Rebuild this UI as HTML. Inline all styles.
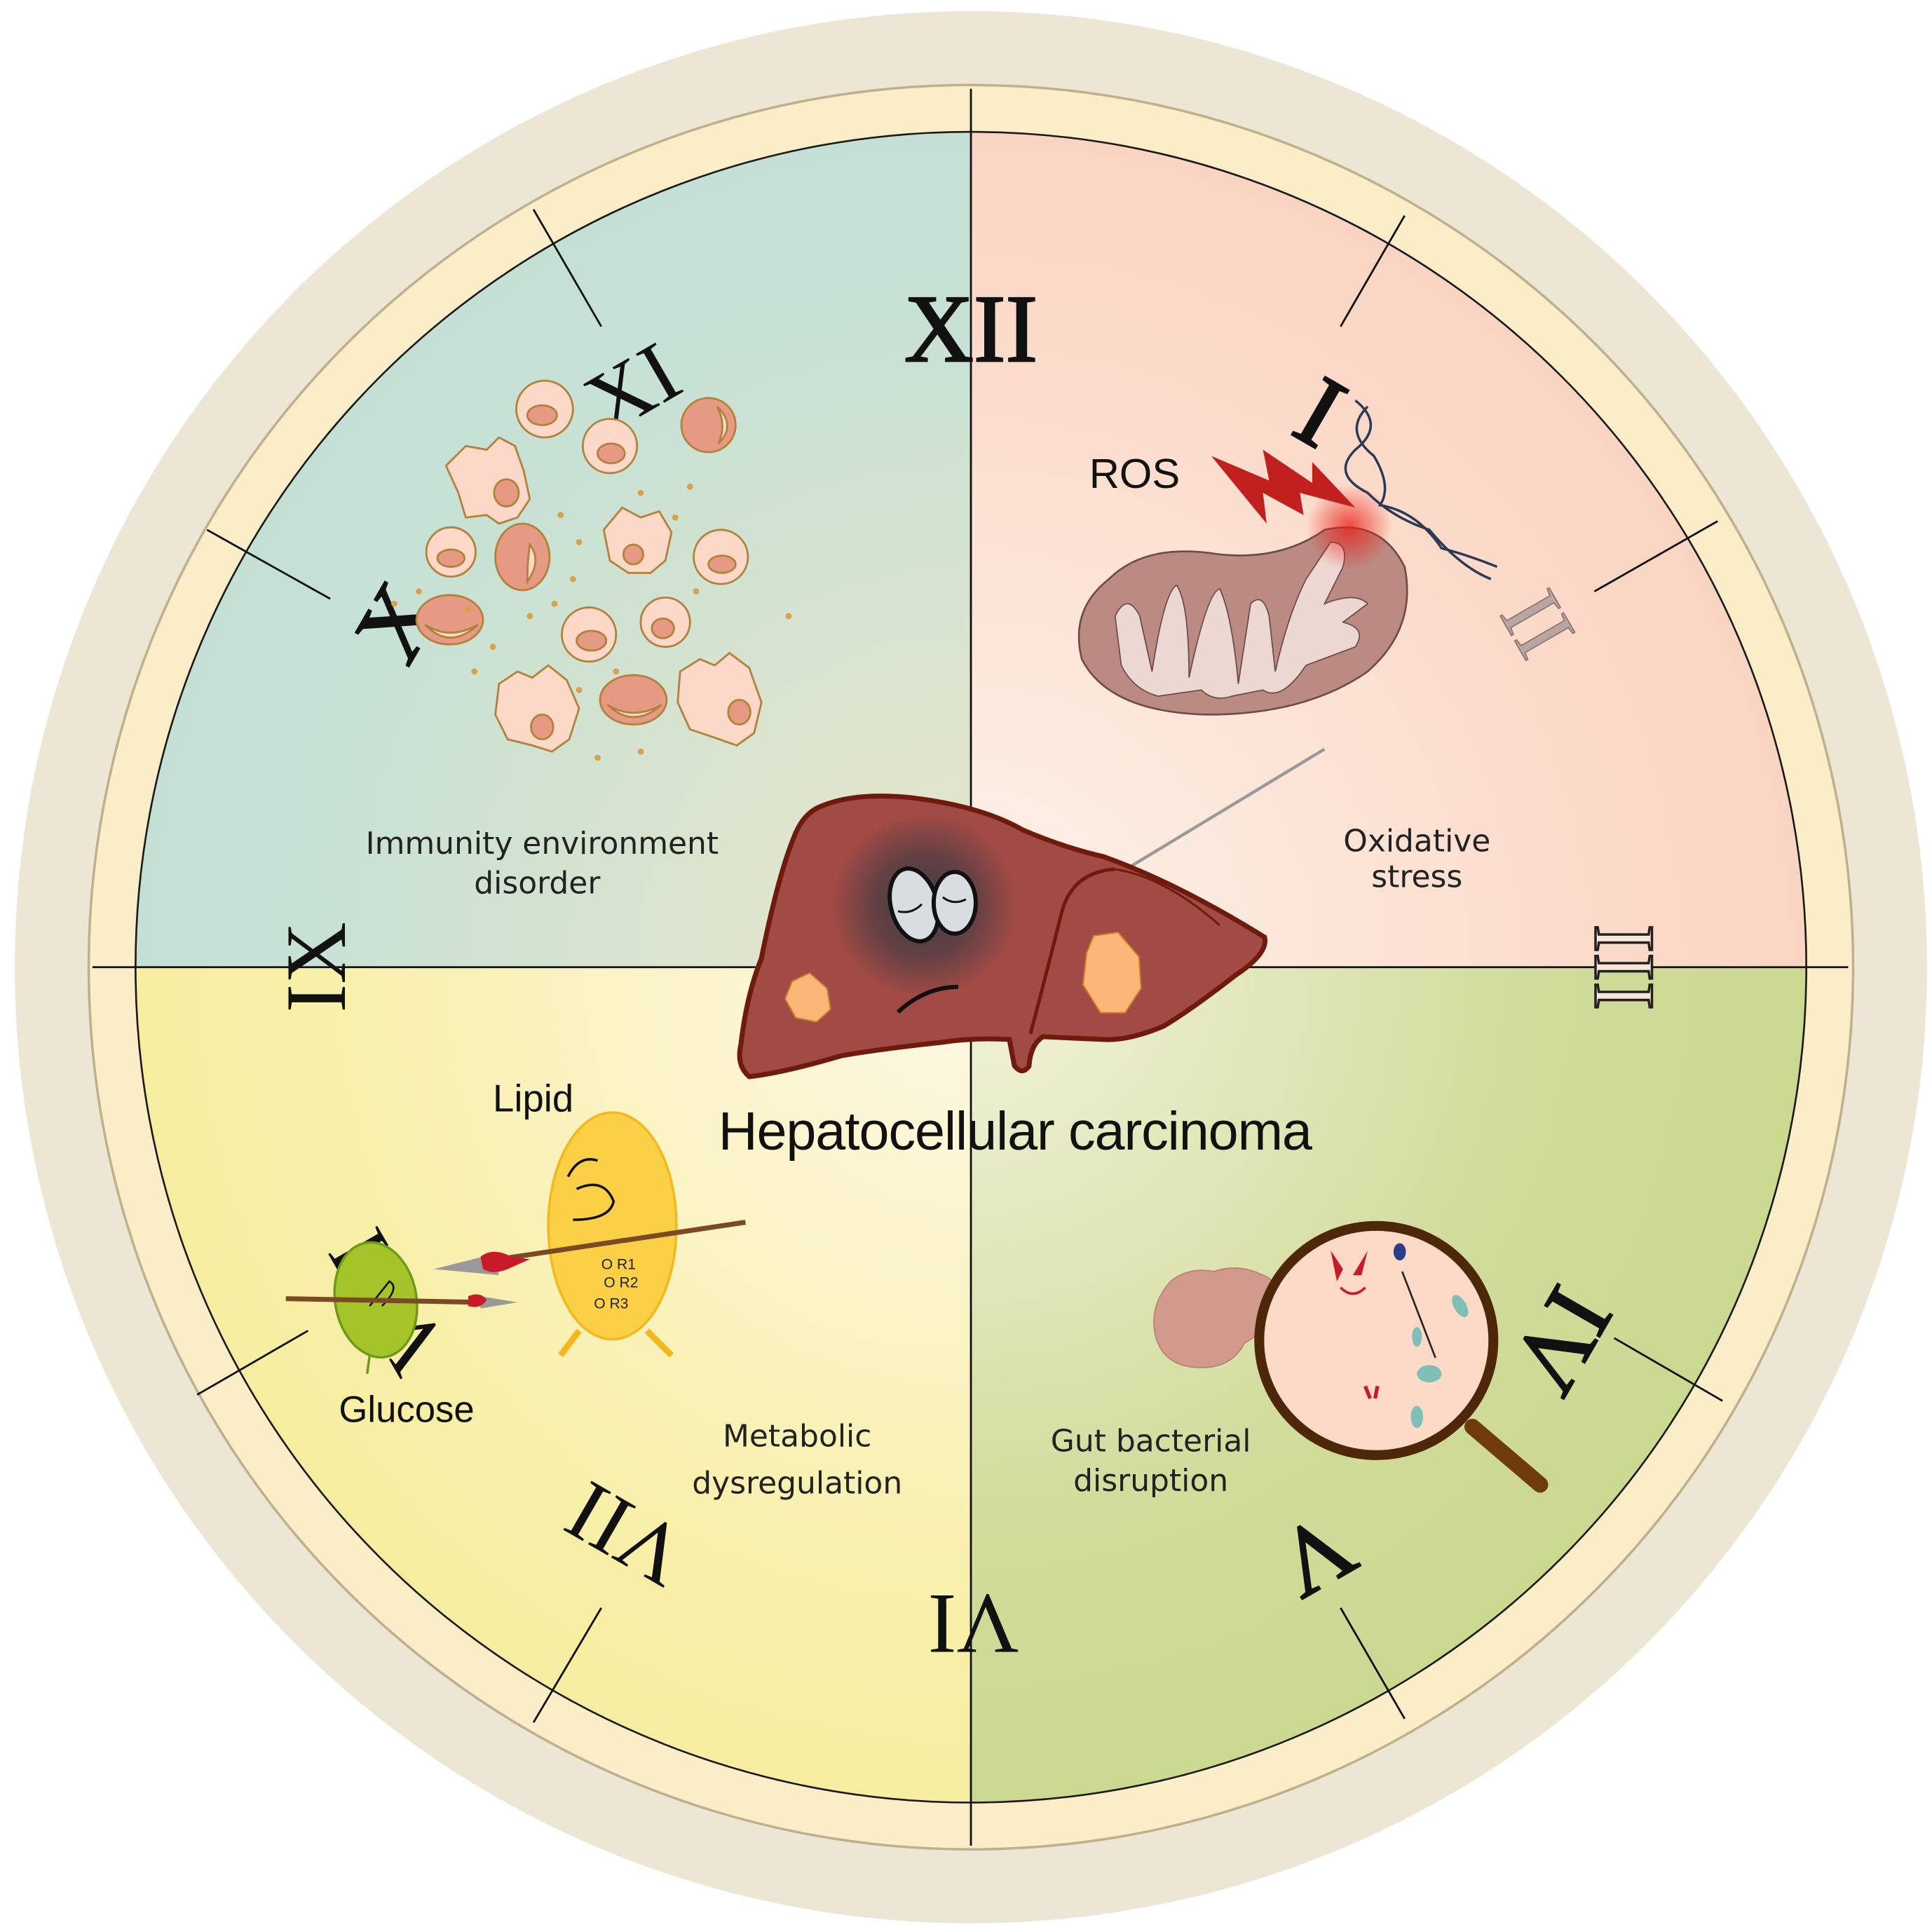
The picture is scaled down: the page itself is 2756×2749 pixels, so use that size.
<!DOCTYPE html>
<html><head><meta charset="utf-8"><style>html,body{margin:0;padding:0;background:#fff}svg{display:block}</style></head>
<body>
<svg width="2756" height="2749" viewBox="0 0 1568 1564" xmlns="http://www.w3.org/2000/svg">
<defs>
<radialGradient id="gTL" cx="788" cy="785" r="900" gradientUnits="userSpaceOnUse"><stop offset="0" stop-color="#eae6c9"/><stop offset="0.6" stop-color="#c7e1d5"/><stop offset="1" stop-color="#c0dfd6"/></radialGradient>
<radialGradient id="gTR" cx="788" cy="785" r="900" gradientUnits="userSpaceOnUse"><stop offset="0" stop-color="#fdf3ea"/><stop offset="0.6" stop-color="#fbd9c8"/><stop offset="1" stop-color="#f9cdbb"/></radialGradient>
<radialGradient id="gBL" cx="788" cy="785" r="900" gradientUnits="userSpaceOnUse"><stop offset="0" stop-color="#fdf8e6"/><stop offset="0.6" stop-color="#f8efa8"/><stop offset="1" stop-color="#f6ea95"/></radialGradient>
<radialGradient id="gBR" cx="788" cy="785" r="900" gradientUnits="userSpaceOnUse"><stop offset="0" stop-color="#f3f3dc"/><stop offset="0.5" stop-color="#d2dc9c"/><stop offset="1" stop-color="#c3d385"/></radialGradient>
<radialGradient id="shade" cx="750" cy="735" r="75" gradientUnits="userSpaceOnUse"><stop offset="0" stop-color="#3a3a44" stop-opacity="0.95"/><stop offset="0.55" stop-color="#3a3a44" stop-opacity="0.6"/><stop offset="1" stop-color="#3a3a44" stop-opacity="0"/></radialGradient>
<radialGradient id="redspot" cx="1095" cy="428" r="35" gradientUnits="userSpaceOnUse"><stop offset="0" stop-color="#e8201a"/><stop offset="1" stop-color="#e8201a" stop-opacity="0"/></radialGradient>
<clipPath id="inner"><circle cx="788" cy="785" r="678"/></clipPath>
<clipPath id="liverclip"><path transform="scale(0.5689)" d="M1172 1150 Q1220 1130 1300 1138 Q1400 1150 1459 1184 Q1520 1210 1574 1222 Q1680 1260 1804 1337 Q1810 1360 1763 1391 Q1700 1440 1660 1464 Q1610 1485 1574 1483 L1488 1479 Q1470 1490 1468 1521 Q1458 1535 1447 1520 L1440 1483 Q1390 1480 1344 1487 Q1260 1496 1201 1506 Q1120 1530 1069 1536 Q1050 1520 1057 1490 Q1065 1420 1086 1368 Q1110 1250 1132 1196 Q1145 1160 1172 1150Z"/></clipPath>
</defs>
<circle cx="788" cy="785" r="776" fill="#ede6d5"/>
<circle cx="788" cy="785" r="716" fill="#fbedc8" stroke="#bfb08d" stroke-width="2"/>
<g clip-path="url(#inner)">
<rect x="100" y="100" width="688" height="685" fill="url(#gTL)"/>
<rect x="788" y="100" width="690" height="685" fill="url(#gTR)"/>
<rect x="100" y="785" width="688" height="690" fill="url(#gBL)"/>
<rect x="788" y="785" width="690" height="690" fill="url(#gBR)"/>
</g>
<circle cx="788" cy="785" r="678" fill="none" stroke="#1a1a1a" stroke-width="1.5"/>
<g stroke="#111" stroke-width="1.6">
<line x1="788" y1="72" x2="788" y2="1498"/>
<line x1="75" y1="785" x2="1500" y2="785"/>
<line x1="1088" y1="265" x2="1140" y2="175"/>
<line x1="1294" y1="480" x2="1394" y2="423"/>
<line x1="1310" y1="1086" x2="1398" y2="1137"/>
<line x1="1088" y1="1305" x2="1140" y2="1395"/>
<line x1="488" y1="1305" x2="433" y2="1398"/>
<line x1="250" y1="1080" x2="160" y2="1132"/>
<line x1="268" y1="486" x2="168" y2="430"/>
<line x1="488" y1="265" x2="433" y2="170"/>
</g>
<g font-family="Liberation Serif, serif" font-size="78" text-anchor="middle" fill="#111">
<text x="788" y="293" stroke="#111" stroke-width="1.5">XII</text>
<text transform="translate(1058,358) rotate(30)" font-size="82" stroke="#111" stroke-width="2">I</text>
<text transform="translate(1228,518) rotate(60)" font-size="70" fill="#b9a5a2" stroke="#8c7470" stroke-width="1">II</text>
<text transform="translate(1295,785) rotate(90)" font-size="70" fill="#fbe6d8" stroke="#222" stroke-width="2">III</text>
<text transform="translate(1245,1075) rotate(120)" font-size="78" stroke="#111" stroke-width="1.5">IV</text>
<text transform="translate(1055,1240) rotate(150)" font-size="78" stroke="#111" stroke-width="1.5">V</text>
<text transform="translate(790,1295) rotate(180)" font-size="70">VI</text>
<text transform="translate(520,1225) rotate(210)" font-size="70">VII</text>
<text transform="translate(335,1045) rotate(240)" font-size="70">VIII</text>
<text transform="translate(280,785) rotate(270)" font-size="70">IX</text>
<text transform="translate(345,518) rotate(300)" font-size="78" stroke="#111" stroke-width="1.5">X</text>
<text transform="translate(525,335) rotate(330)" font-size="70">XI</text>
</g>
<!-- immune cells -->
<g stroke="#b0823a" stroke-width="1.6">
<g fill="#fcd8c8">
<path d="M362 378 L378 362 L395 365 L405 355 L418 362 L425 382 L430 405 L420 420 L405 425 L395 418 L378 420 L372 400 Z"/>
<path d="M490 430 L505 412 L520 420 L535 415 L545 432 L540 455 L528 465 L510 465 L495 455 Z"/>
<path d="M405 555 L420 545 L432 550 L445 540 L460 552 L470 575 L462 600 L448 610 L432 605 L412 600 L402 580 Z"/>
<path d="M552 545 L568 535 L580 540 L592 530 L608 542 L618 570 L612 595 L598 605 L578 598 L560 592 L550 570 Z"/>
<circle cx="442" cy="332" r="23"/><circle cx="495" cy="362" r="22"/><circle cx="366" cy="448" r="20"/>
<circle cx="585" cy="452" r="22"/><circle cx="478" cy="515" r="22"/><circle cx="540" cy="505" r="20"/>
</g>
<g fill="#e79a83">
<ellipse cx="440" cy="337" rx="12" ry="8"/><ellipse cx="496" cy="368" rx="11" ry="8"/><ellipse cx="366" cy="453" rx="11" ry="7"/>
<ellipse cx="586" cy="458" rx="11" ry="7"/><ellipse cx="480" cy="520" rx="12" ry="8"/><ellipse cx="538" cy="510" rx="9" ry="8"/>
<ellipse cx="411" cy="400" rx="10" ry="11"/><ellipse cx="514" cy="450" rx="8" ry="8"/><ellipse cx="440" cy="590" rx="9" ry="10"/><ellipse cx="600" cy="578" rx="9" ry="10"/>
<circle cx="575" cy="345" r="22"/><ellipse cx="424" cy="452" rx="22" ry="27"/><ellipse cx="365" cy="503" rx="27" ry="20"/><ellipse cx="514" cy="568" rx="27" ry="20"/>
</g>
<g fill="#fcd8c8"><path d="M582 330 Q598 345 583 360 Q590 345 582 330Z"/><path d="M430 442 Q440 455 428 472 Q428 455 430 442Z"/><path d="M345 507 Q365 520 388 507 Q365 528 345 507Z"/><path d="M493 572 Q514 585 537 572 Q514 592 493 572Z"/></g>
</g>
<g fill="#d9a24a">
<circle cx="455" cy="418" r="2.5"/><circle cx="470" cy="440" r="2.5"/><circle cx="465" cy="470" r="2.5"/><circle cx="450" cy="490" r="2.5"/><circle cx="430" cy="500" r="2.5"/><circle cx="400" cy="525" r="2.5"/><circle cx="385" cy="545" r="2.5"/><circle cx="520" cy="400" r="2.5"/><circle cx="548" cy="420" r="2.5"/><circle cx="560" cy="395" r="2.5"/><circle cx="565" cy="480" r="2.5"/><circle cx="500" cy="545" r="2.5"/><circle cx="470" cy="560" r="2.5"/><circle cx="520" cy="610" r="2.5"/><circle cx="485" cy="615" r="2.5"/><circle cx="640" cy="500" r="2.5"/><circle cx="380" cy="495" r="2.5"/><circle cx="320" cy="490" r="2.5"/><circle cx="340" cy="480" r="2.5"/>
</g>
<!-- labels -->
<g font-family="DejaVu Sans, Liberation Sans, sans-serif" font-size="25" text-anchor="middle" fill="#222">
<text x="440" y="693">Immunity environment</text><text x="436" y="725">disorder</text>
<text x="1150" y="691">Oxidative</text><text x="1150" y="720">stress</text>
<text x="647" y="1174">Metabolic</text><text x="647" y="1212">dysregulation</text>
<text x="934" y="1178">Gut bacterial</text><text x="934" y="1210">disruption</text>
</g>
<g font-family="Liberation Sans, sans-serif" fill="#111">
<text x="884" y="396" font-size="34">ROS</text>
<text x="400" y="902" font-size="31">Lipid</text>
<text x="275" y="1154" font-size="30">Glucose</text>
</g>
<!-- mitochondria -->
<path d="M900 470 Q930 440 990 450 Q1040 455 1075 430 Q1120 420 1140 460 Q1150 510 1110 545 Q1060 580 980 580 Q900 578 878 535 Q868 495 900 470Z" fill="#bb8a82" stroke="#6d4b47" stroke-width="1.5"/>
<path d="M905 500 Q915 480 925 500 L935 545 Q945 480 955 475 Q965 490 965 550 Q980 480 990 478 Q1000 500 1005 555 L1015 490 Q1025 480 1030 500 L1035 545 Q1045 500 1060 470 L1080 440 Q1095 440 1090 460 L1075 490 Q1100 480 1110 490 L1090 505 Q1110 510 1100 525 L1060 540 Q1040 570 1025 560 L1000 565 Q985 570 975 560 L940 565 Q920 560 910 540 Z" fill="#ecd7d2" stroke="#6d4b47" stroke-width="1"/>
<circle cx="1095" cy="428" r="35" fill="url(#redspot)" opacity="0.8"/>
<path d="M983 370 L1030 390 L1025 365 L1065 392 L1065 375 L1100 412 L1055 400 L1058 418 L1025 400 L1028 425 Z" fill="#c21f1f"/>
<g fill="none" stroke="#2c3a55" stroke-width="2">
<path d="M1100 325 Q1125 345 1100 365 Q1080 385 1110 400 Q1130 420 1160 430 Q1185 460 1210 470"/>
<path d="M1110 330 Q1090 350 1115 370 Q1130 395 1120 410 Q1150 415 1170 445 Q1190 450 1215 460"/>
</g>
<!-- pointer line -->
<line x1="918" y1="703" x2="1075" y2="608" stroke="#999" stroke-width="2.5"/>
<!-- liver -->
<g transform="scale(0.5689)">
<path d="M1172 1150 Q1220 1130 1300 1138 Q1400 1150 1459 1184 Q1520 1210 1574 1222 Q1680 1260 1804 1337 Q1810 1360 1763 1391 Q1700 1440 1660 1464 Q1610 1485 1574 1483 L1488 1479 Q1470 1490 1468 1521 Q1458 1535 1447 1520 L1440 1483 Q1390 1480 1344 1487 Q1260 1496 1201 1506 Q1120 1530 1069 1536 Q1050 1520 1057 1490 Q1065 1420 1086 1368 Q1110 1250 1132 1196 Q1145 1160 1172 1150Z" fill="#a24a45"/>
</g>
<ellipse cx="752" cy="735" rx="80" ry="72" fill="url(#shade)" clip-path="url(#liverclip)"/>
<g transform="scale(0.5689)">
<path d="M1172 1150 Q1220 1130 1300 1138 Q1400 1150 1459 1184 Q1520 1210 1574 1222 Q1680 1260 1804 1337 Q1810 1360 1763 1391 Q1700 1440 1660 1464 Q1610 1485 1574 1483 L1488 1479 Q1470 1490 1468 1521 Q1458 1535 1447 1520 L1440 1483 Q1390 1480 1344 1487 Q1260 1496 1201 1506 Q1120 1530 1069 1536 Q1050 1520 1057 1490 Q1065 1420 1086 1368 Q1110 1250 1132 1196 Q1145 1160 1172 1150Z" fill="none" stroke="#6e1a0c" stroke-width="7"/>
<path d="M1590 1240 Q1530 1245 1515 1300 Q1490 1400 1470 1475" fill="none" stroke="#6e1a0c" stroke-width="5"/>
<path d="M1590 1240 Q1660 1250 1740 1320" fill="none" stroke="#6e1a0c" stroke-width="3"/>
<ellipse cx="1304" cy="1291" rx="33" ry="53" fill="#d9dde0" stroke="#111" stroke-width="6" transform="rotate(-15 1304 1291)"/>
<ellipse cx="1362" cy="1288" rx="30" ry="44" fill="#d9dde0" stroke="#111" stroke-width="6"/>
<path d="M1281 1300 Q1300 1305 1315 1290" fill="none" stroke="#111" stroke-width="3"/>
<path d="M1345 1280 Q1360 1292 1378 1283" fill="none" stroke="#111" stroke-width="3"/>
<path d="M1281 1444 Q1320 1408 1367 1408" fill="none" stroke="#111" stroke-width="6"/>
<path d="M1130 1400 L1155 1388 L1180 1410 L1185 1440 L1165 1458 L1135 1452 L1120 1425Z" fill="#fbb576" stroke="#c87a2a" stroke-width="2"/>
<path d="M1560 1335 L1595 1330 L1625 1365 L1628 1410 L1605 1445 L1570 1445 L1545 1405 L1550 1360Z" fill="#fbb576" stroke="#c87a2a" stroke-width="2"/>
</g>
<text x="583" y="933" font-family="Liberation Sans, sans-serif" font-size="44" fill="#111" textLength="482">Hepatocellular carcinoma</text>
<!-- lipid -->
<ellipse cx="497" cy="995" rx="52" ry="92" fill="#fbd047" stroke="#f4b81c" stroke-width="2"/>
<path d="M470 1080 L455 1100 M525 1080 L545 1100" stroke="#f4b81c" stroke-width="5"/>
<path d="M461 955 Q470 937 485 942 M468 965 Q490 955 498 975 Q495 990 465 990" fill="none" stroke="#111" stroke-width="2"/>
<text x="488" y="1030" font-family="Liberation Sans, sans-serif" font-size="12" fill="#222">O R1</text>
<text x="490" y="1045" font-family="Liberation Sans, sans-serif" font-size="12" fill="#222">O R2</text>
<text x="482" y="1062" font-family="Liberation Sans, sans-serif" font-size="12" fill="#222">O R3</text>
<!-- glucose -->
<ellipse cx="305" cy="1055" rx="33" ry="47" fill="#a4c42a" stroke="#6e9a1a" stroke-width="2" transform="rotate(-10 305 1055)"/>
<path d="M300 1100 L298 1115" stroke="#6e9a1a" stroke-width="2"/>
<path d="M300 1060 L316 1040 Q325 1045 310 1060" fill="none" stroke="#111" stroke-width="1.5"/>
<!-- spears -->
<line x1="405" y1="1022" x2="605" y2="992" stroke="#7a4a25" stroke-width="4"/>
<path d="M352 1030 L400 1018 L405 1035Z" fill="#999"/>
<path d="M390 1020 Q400 1012 415 1020 L430 1022 L412 1030 Q400 1035 392 1030Z" fill="#c81b2a"/>
<line x1="232" y1="1054" x2="390" y2="1057" stroke="#7a4a25" stroke-width="4"/>
<path d="M390 1052 L420 1057 L390 1062Z" fill="#999"/>
<path d="M380 1052 Q390 1048 395 1055 Q390 1063 380 1060Z" fill="#c81b2a"/>
<!-- intestine -->
<path d="M950 1040 Q965 1028 985 1032 Q1005 1025 1025 1035 Q1040 1040 1040 1065 L1030 1075 Q1020 1085 1010 1090 Q1000 1110 975 1110 Q945 1110 938 1085 Q932 1060 950 1040Z" fill="#d29a8c" stroke="#b98070" stroke-width="1"/>
<!-- magnifier -->
<line x1="1195" y1="1158" x2="1250" y2="1205" stroke="#6e3a0e" stroke-width="13" stroke-linecap="round"/>
<ellipse cx="1117" cy="1088" rx="95" ry="93" fill="#fddac8" stroke="#4e2608" stroke-width="8"/>
<path d="M1080 1015 L1090 1030 L1085 1040Z M1110 1015 L1105 1035 L1098 1035Z" fill="#c81b2a"/>
<path d="M1088 1045 Q1098 1055 1108 1045" fill="none" stroke="#c81b2a" stroke-width="2"/>
<line x1="1138" y1="1032" x2="1165" y2="1102" stroke="#222" stroke-width="1.5"/>
<g fill="#7fbfb8"><ellipse cx="1185" cy="1060" rx="5" ry="10" transform="rotate(-30 1185 1060)"/><ellipse cx="1160" cy="1115" rx="10" ry="7"/><ellipse cx="1150" cy="1150" rx="5" ry="9"/><ellipse cx="1150" cy="1085" rx="4" ry="8"/></g>
<ellipse cx="1136" cy="1016" rx="5" ry="7" fill="#2a3f8a"/>
<path d="M1108 1125 L1112 1135 M1118 1125 L1116 1135" stroke="#c81b2a" stroke-width="3"/>
</svg>
</body></html>
